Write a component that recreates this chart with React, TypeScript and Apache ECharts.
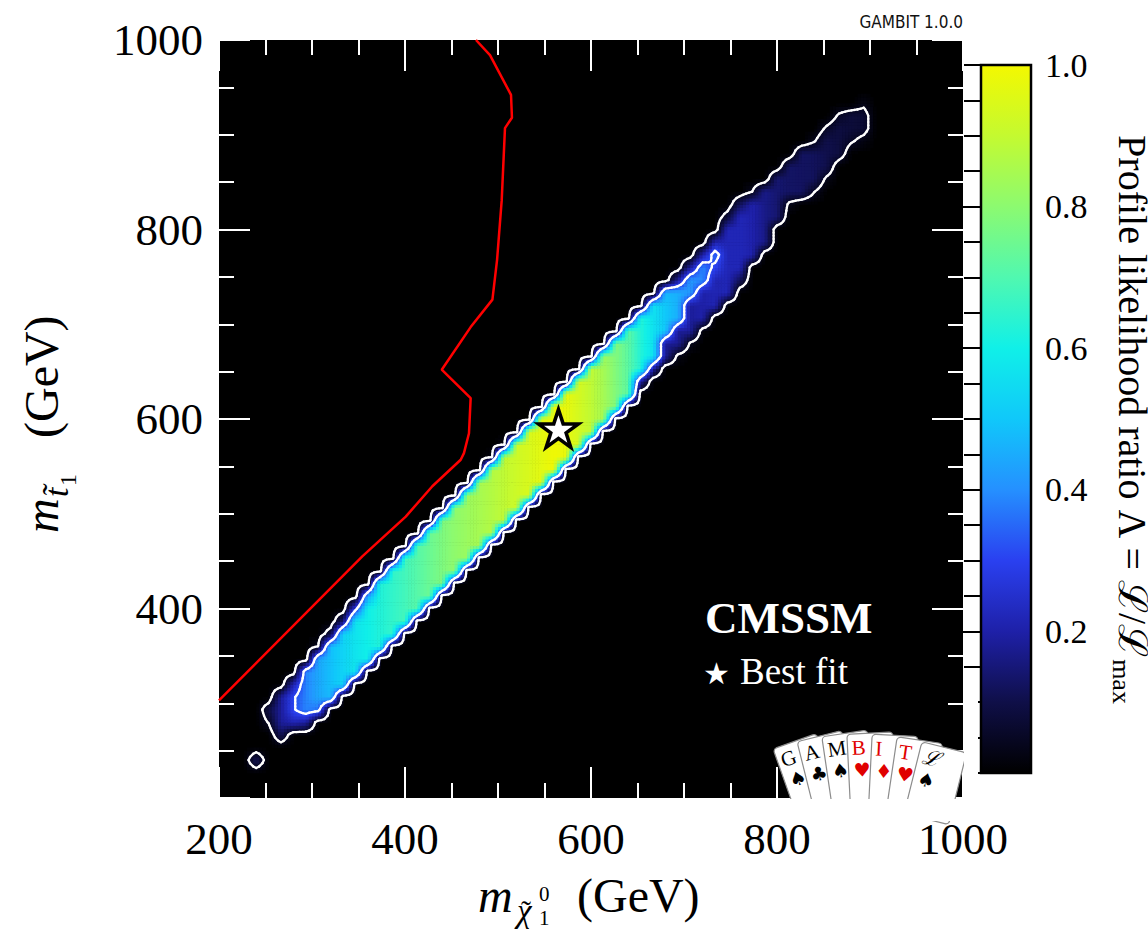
import React, { useEffect, useRef } from 'react';
import * as echarts from 'echarts';

const SERIF = "'Liberation Serif', 'DejaVu Serif', serif";
const SYMBOL_FONT = "'DejaVu Sans', 'Noto Sans', sans-serif";

// Mass axes (GeV)
const massMin = 200;
const massMax = 1000;
const massMajorStep = 200;
const massMinorSplit = 4;

// Colour bar for Λ = L/Lmax
const lambdaMin = 0;
const lambdaMax = 1;
const lambdaStep = 0.2;
const lambdaColours = [
  '#000000', '#0f0f48', '#1e20a8', '#2a40f0', '#2590ff', '#10c8fa',
  '#10f0e8', '#50f8b0', '#8cfa70', '#c4fa30', '#f4f800',
];

// High-likelihood core of the stop co-annihilation strip:
// lower / upper edge in m_stop and central Λ, sampled along m_neutralino
const coreX = [268, 285, 300, 350, 400, 450, 500, 565, 610, 640, 655, 680, 705, 725, 745];
const coreLow = [296, 278, 283, 330, 376, 425, 478, 542, 588, 620, 645, 680, 716, 746, 770];
const coreHigh = [304, 322, 352, 406, 461, 511, 566, 625, 668, 700, 716, 738, 758, 776, 784];
const corePeak = [0.22, 0.34, 0.42, 0.58, 0.68, 0.8, 0.88, 1.0, 0.86, 0.72, 0.62, 0.5, 0.42, 0.38, 0.34];

// Faint outer part of the strip (reaches up to m_neutralino ≈ 900 GeV)
const haloX = [252, 258, 270, 285, 300, 350, 400, 450, 500, 565, 610, 650, 700, 740, 768, 792, 810, 840, 865, 880, 895, 900];
const haloLow = [280, 268, 262, 270, 280, 328, 374, 423, 476, 540, 586, 626, 672, 714, 756, 788, 824, 838, 864, 890, 892, 910];
const haloHigh = [296, 312, 322, 334, 354, 408, 463, 513, 568, 627, 670, 713, 760, 808, 838, 852, 874, 895, 922, 932, 936, 926];
const haloLevel = [0.08, 0.14, 0.2, 0.22, 0.2, 0.18, 0.18, 0.18, 0.18, 0.18, 0.18, 0.18, 0.18, 0.22, 0.22, 0.15, 0.13, 0.12, 0.09, 0.08, 0.07, 0.05];

// Isolated bins [m_neutralino, m_stop, Λ]
const isolatedBins = [[240, 240, 0.12]];

// Contour levels: 68.3% and 95.4% CL in 2D
const contourLevels = [0.3166, 0.0455];

// Red exclusion boundary
const limitX = [476.3, 491.4, 514, 515, 507.5, 504, 499, 494, 470.6, 439.5, 470.6, 468.8, 463.4, 459.9, 429.4, 400.8, 354.1, 200];
const limitY = [1000, 984, 942, 918, 907, 831, 768, 726, 697, 652, 622, 585, 564, 557, 529, 497, 455, 303];

// Best-fit point
const bestFit = [565, 590];

// Card fan of the logo
const cardFaces = ['G', 'A', 'M', 'B', 'I', 'T', 'ℒ'];
const cardSuits = ['♠', '♣', '♠', '♥', '♦', '♥', '♠'];
const cardIsRed = [false, false, false, true, true, true, false];

const BINS = 60;
const SUB = 4;
const EDGE_SOFTNESS = 5;

function interp(xs: number[], ys: number[], x: number): number {
  const n = xs.length;
  if (x < xs[0] || x > xs[n - 1]) return NaN;
  for (let i = 0; i < n - 1; i++) {
    if (x <= xs[i + 1]) {
      const t = (x - xs[i]) / (xs[i + 1] - xs[i]);
      return ys[i] + t * (ys[i + 1] - ys[i]);
    }
  }
  return ys[n - 1];
}

function stripValue(xs: number[], lows: number[], highs: number[], levels: number[], x: number, y: number): number {
  const lo = interp(xs, lows, x);
  if (isNaN(lo)) return 0;
  const hi = interp(xs, highs, x);
  const lv = interp(xs, levels, x);
  const d = Math.min(y - lo, hi - y);
  if (d <= 0) return 0;
  return lv * Math.min(1, d / EDGE_SOFTNESS);
}

function buildLikelihood() {
  const step = (massMax - massMin) / BINS;
  const coarse: number[][] = [];
  for (let i = 0; i <= BINS; i++) {
    const row: number[] = [];
    const x = massMin + i * step;
    for (let j = 0; j <= BINS; j++) {
      const y = massMin + j * step;
      row.push(Math.max(
        stripValue(coreX, coreLow, coreHigh, corePeak, x, y),
        stripValue(haloX, haloLow, haloHigh, haloLevel, x, y),
      ));
    }
    coarse.push(row);
  }
  isolatedBins.forEach(([x, y, v]) => {
    const i = Math.round((x - massMin) / step);
    const j = Math.round((y - massMin) / step);
    coarse[i][j] = Math.max(coarse[i][j], v);
  });

  // bilinear refinement for shading and contouring
  const M = BINS * SUB;
  const fStep = step / SUB;
  const fine: number[][] = [];
  for (let k = 0; k <= M; k++) {
    let i = Math.floor(k / SUB);
    let fx = (k % SUB) / SUB;
    if (i >= BINS) { i = BINS - 1; fx = 1; }
    const row: number[] = [];
    for (let l = 0; l <= M; l++) {
      let j = Math.floor(l / SUB);
      let fy = (l % SUB) / SUB;
      if (j >= BINS) { j = BINS - 1; fy = 1; }
      const v = coarse[i][j] * (1 - fx) * (1 - fy) + coarse[i + 1][j] * fx * (1 - fy)
        + coarse[i][j + 1] * (1 - fx) * fy + coarse[i + 1][j + 1] * fx * fy;
      row.push(v);
    }
    fine.push(row);
  }

  const cells: number[][] = [];
  for (let k = 0; k < M; k++) {
    for (let l = 0; l < M; l++) {
      const v = (fine[k][l] + fine[k + 1][l] + fine[k][l + 1] + fine[k + 1][l + 1]) / 4;
      if (v > 0.005) cells.push([massMin + (k + 0.5) * fStep, massMin + (l + 0.5) * fStep, v]);
    }
  }

  const segments: number[][] = [];
  contourLevels.forEach((level) => {
    for (let k = 0; k < M; k++) {
      for (let l = 0; l < M; l++) {
        const a = fine[k][l], b = fine[k + 1][l], c = fine[k + 1][l + 1], d = fine[k][l + 1];
        const ia = a >= level, ib = b >= level, ic = c >= level, id = d >= level;
        if (ia === ib && ib === ic && ic === id) continue;
        const x0 = massMin + k * fStep, x1 = x0 + fStep;
        const y0 = massMin + l * fStep, y1 = y0 + fStep;
        const cross = (va: number, vb: number, pa: number[], pb: number[]) => {
          const t = (level - va) / (vb - va);
          return [pa[0] + t * (pb[0] - pa[0]), pa[1] + t * (pb[1] - pa[1])];
        };
        const A = [x0, y0], B = [x1, y0], C = [x1, y1], D = [x0, y1];
        const e: Record<string, number[]> = {};
        if (ia !== ib) e.s = cross(a, b, A, B);
        if (ib !== ic) e.e = cross(b, c, B, C);
        if (ic !== id) e.n = cross(c, d, C, D);
        if (id !== ia) e.w = cross(d, a, D, A);
        const keys = Object.keys(e);
        if (keys.length === 2) {
          segments.push([...e[keys[0]], ...e[keys[1]]]);
        } else if (keys.length === 4) {
          const centreUp = (a + b + c + d) / 4 >= level;
          const acUp = ia && ic;
          if (acUp === centreUp) {
            segments.push([...e.s, ...e.e], [...e.n, ...e.w]);
          } else {
            segments.push([...e.s, ...e.w], [...e.e, ...e.n]);
          }
        }
      }
    }
  });
  return { cells, segments, half: fStep / 2 };
}

const STAR = 'path://M50,2 L61.2,36.1 L97,36.1 L68,57.2 L79,91.5 L50,70.4 L21,91.5 L32,57.2 L3,36.1 L38.8,36.1 Z';

function text(t: string, x: number, baseline: number, size: number, extra: any = {}) {
  return {
    type: 'text', x, y: baseline - 0.34 * size, z: 100,
    style: { text: t, fontSize: size, fontFamily: SERIF, fill: '#000', align: 'left', verticalAlign: 'middle', ...extra },
  };
}

function textWidth(t: string, size: number): number {
  const ctx = document.createElement('canvas').getContext('2d');
  if (!ctx) return t.length * size * 0.45;
  ctx.font = `${size}px ${SERIF}`;
  return ctx.measureText(t).width;
}

function massAxis(kind: 'x' | 'y', position: string, labels: boolean) {
  return {
    type: 'value', gridIndex: 0, position, min: massMin, max: massMax, interval: massMajorStep,
    axisLine: { show: false },
    axisTick: { show: true, inside: true, length: 31, lineStyle: { color: '#fff', width: 2 } },
    minorTick: { show: true, splitNumber: massMinorSplit, length: 15, lineStyle: { color: '#fff', width: 2 } },
    splitLine: { show: false },
    minorSplitLine: { show: false },
    axisLabel: {
      show: labels, color: '#000', fontFamily: SERIF, fontSize: 45,
      margin: kind === 'x' ? 18 : 16, showMinLabel: kind === 'x', showMaxLabel: true,
      formatter: (v: number) => (kind === 'y' && v === massMin ? '' : String(v)),
    },
  };
}

function buildOption() {
  const { cells, segments, half } = buildLikelihood();
  const limitLine = limitX.map((x, i) => [x, limitY[i]]);
  const gradientStops = lambdaColours.map((c, i) => ({ offset: i / (lambdaColours.length - 1), color: c }));

  // logo: fan of cards pivoting below the frame
  const pivotX = 859.5, pivotY = 992;
  const cards: any[] = [];
  cardFaces.forEach((face, k) => {
    const deg = -19.6 + 5.6 * k;
    const fill = cardIsRed[k] ? '#e00000' : '#000';
    cards.push({
      type: 'group', x: pivotX, y: pivotY, rotation: (-deg * Math.PI) / 180, z: 100,
      children: [
        { type: 'rect', z: 100, z2: k * 3, shape: { x: 0, y: -258, width: 46, height: 74, r: 4 }, style: { fill: '#fff', stroke: '#8c8c8c', lineWidth: 1.2 } },
        { type: 'text', z: 100, z2: k * 3 + 1, x: 4, y: -244, style: { text: face, fontSize: 21, fontFamily: SERIF, fontStyle: face === 'ℒ' ? 'italic' : 'normal', fill, align: 'left', verticalAlign: 'middle' } },
        { type: 'text', z: 100, z2: k * 3 + 1, x: 5, y: -222, style: { text: cardSuits[k], fontSize: 19, fontFamily: SYMBOL_FONT, fill, align: 'left', verticalAlign: 'middle' } },
      ],
    });
  });

  // colour-bar title, read top to bottom, with a lowered "max"
  const barTitle = 'Profile likelihood ratio Λ = ℒ/ℒ';
  const barTitleSize = 40;
  const barSubSize = 26;
  const wMain = textWidth(barTitle, barTitleSize);
  const wSub = textWidth('max', barSubSize);
  const barTitleStart = 419 - (wMain + wSub) / 2;

  const graphics: any[] = [
    ...cards,
    { type: 'rect', z: 101, shape: { x: 766, y: 799, width: 212, height: 22 }, style: { fill: '#fff' } },
    { type: 'rect', z: 101, shape: { x: 964, y: 690, width: 14, height: 110 }, style: { fill: '#fff' } },
    // x-axis title
    text('m', 478, 912, 48, { fontStyle: 'italic' }),
    text('χ', 517, 922, 33, { fontStyle: 'italic' }),
    text('˜', 521, 921, 30),
    text('0', 539, 901, 21),
    text('1', 539, 925, 21),
    text('(GeV)', 577, 912, 48),
    // y-axis title
    {
      type: 'group', x: 58, y: 533, rotation: Math.PI / 2, z: 100,
      children: [
        text('m', 0, 0, 48, { fontStyle: 'italic' }),
        text('t\u0303', 36, 10, 34, { fontStyle: 'italic' }),
        text('1', 47, 18, 24),
        text('(GeV)', 95, 0, 48),
      ],
    },
    {
      type: 'group', x: 1119, y: barTitleStart, rotation: -Math.PI / 2, z: 100,
      children: [
        text(barTitle, 0, 0, barTitleSize),
        text('max', wMain + 1, 6, barSubSize),
      ],
    },
    {
      type: 'text', x: 963, y: 22, z: 100,
      style: {
        text: 'GAMBIT 1.0.0', align: 'right', verticalAlign: 'middle', fontSize: 17,
        fontFamily: "'DejaVu Sans Condensed', 'Liberation Sans Narrow', 'DejaVu Sans', sans-serif", fill: '#111',
      },
    },
    text('CMSSM', 705, 633, 45, { fill: '#fff', fontWeight: 'bold' }),
    text('★', 703, 684, 30, { fill: '#fff', fontFamily: SYMBOL_FONT }),
    text('Best fit', 740, 684, 37, { fill: '#fff' }),
  ];

  return {
    animation: false,
    backgroundColor: '#fff',
    grid: [
      { left: 219, top: 40, width: 744, height: 758, show: true, backgroundColor: '#000', borderWidth: 0 },
      { left: 981, top: 65, width: 50, height: 708, show: false },
    ],
    xAxis: [
      massAxis('x', 'bottom', true),
      massAxis('x', 'top', false),
      { type: 'value', gridIndex: 1, min: 0, max: 1, show: false },
    ],
    yAxis: [
      massAxis('y', 'left', true),
      massAxis('y', 'right', false),
      {
        type: 'value', gridIndex: 1, position: 'right', min: lambdaMin, max: lambdaMax, interval: lambdaStep,
        axisLine: { show: false },
        axisTick: { show: true, inside: true, length: 33, lineStyle: { color: '#000', width: 2 } },
        minorTick: { show: true, splitNumber: 4, length: 17, lineStyle: { color: '#000', width: 2 } },
        splitLine: { show: false },
        axisLabel: {
          color: '#000', fontFamily: SERIF, fontSize: 34, margin: 14,
          formatter: (v: number) => (v === 0 ? '' : v.toFixed(1)),
        },
      },
    ],
    visualMap: {
      type: 'continuous', show: false, min: lambdaMin, max: lambdaMax, dimension: 2, seriesIndex: 0,
      inRange: { color: lambdaColours },
    },
    series: [
      {
        type: 'custom', name: 'likelihood', xAxisIndex: 0, yAxisIndex: 0, data: cells,
        dimensions: ['x', 'y', 'lambda'], encode: { x: 0, y: 1 }, clip: true, silent: true, progressive: 0, z: 2,
        renderItem: (params: any, api: any) => {
          const x = api.value(0), y = api.value(1);
          const p0 = api.coord([x - half, y + half]);
          const p1 = api.coord([x + half, y - half]);
          return {
            type: 'rect',
            shape: { x: p0[0], y: p0[1], width: p1[0] - p0[0] + 0.6, height: p1[1] - p0[1] + 0.6 },
            style: { fill: api.visual('color') },
          };
        },
      },
      {
        type: 'custom', name: 'contours', xAxisIndex: 0, yAxisIndex: 0, data: segments,
        encode: { x: [0, 2], y: [1, 3] }, clip: true, silent: true, progressive: 0, z: 3,
        renderItem: (params: any, api: any) => {
          const a = api.coord([api.value(0), api.value(1)]);
          const b = api.coord([api.value(2), api.value(3)]);
          return {
            type: 'line',
            shape: { x1: a[0], y1: a[1], x2: b[0], y2: b[1] },
            style: { stroke: '#fff', lineWidth: 2.3, lineCap: 'round' },
          };
        },
      },
      {
        type: 'line', name: 'limit', xAxisIndex: 0, yAxisIndex: 0, data: limitLine, symbol: 'none',
        lineStyle: { color: '#ff0000', width: 2.5 }, clip: true, silent: true, z: 4,
      },
      {
        type: 'scatter', name: 'best fit', xAxisIndex: 0, yAxisIndex: 0, data: [bestFit],
        symbol: STAR, symbolSize: [40, 38], silent: true, z: 5,
        itemStyle: { color: '#fff', borderColor: '#000', borderWidth: 3.5, opacity: 1 },
      },
      {
        type: 'custom', name: 'colour bar', xAxisIndex: 2, yAxisIndex: 2, data: [[0, 0, 1, 1]],
        encode: { x: [0, 2], y: [1, 3] }, silent: true, z: -1,
        renderItem: (params: any, api: any) => {
          const p0 = api.coord([0, lambdaMax]);
          const p1 = api.coord([1, lambdaMin]);
          return {
            type: 'rect',
            shape: { x: p0[0], y: p0[1], width: p1[0] - p0[0], height: p1[1] - p0[1] },
            style: {
              fill: new echarts.graphic.LinearGradient(0, 1, 0, 0, gradientStops),
              stroke: '#000', lineWidth: 2.5,
            },
          };
        },
      },
    ],
    graphic: { elements: graphics },
  };
}

export default function App() {
  const ref = useRef<HTMLDivElement | null>(null);
  useEffect(() => {
    if (!ref.current) return;
    const chart = echarts.init(ref.current, undefined, { renderer: 'svg' });
    chart.setOption(buildOption() as any);
    return () => chart.dispose();
  }, []);
  return (
    <div
      ref={ref}
      style={{ position: 'absolute', left: 0, top: 0, width: 1148, height: 931, background: '#fff' }}
    />
  );
}
